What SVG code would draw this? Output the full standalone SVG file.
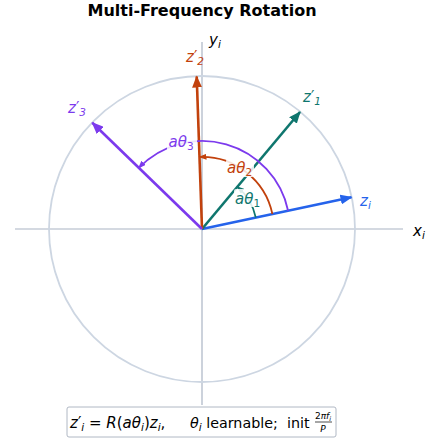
<svg xmlns="http://www.w3.org/2000/svg" width="429" height="440" viewBox="0 0 429 440">
<style>
  text { font-family: "DejaVu Sans", "Liberation Sans", sans-serif; }
  .title { font-size: 16px; font-weight: bold; fill: #000; }
  .math { font-style: italic; font-size: 15px; }
  .ax { stroke: #aab4c4; stroke-width: 1.2; fill: none; }
  .circ { stroke: #cdd6e2; stroke-width: 1.8; fill: none; }
  .vec { stroke-width: 2.6; fill: none; }
  .arc { stroke-width: 1.8; fill: none; }
  .lblbg { fill: #fff; fill-opacity: 0.85; stroke: none; }
  .sub { font-size: 10.5px; }
  .pr { font-style: normal; }
</style>
<defs>
  <marker id="hBlue" viewBox="0 0 12 10" refX="11" refY="5" markerWidth="12" markerHeight="10" markerUnits="userSpaceOnUse" orient="auto"><path d="M0,0 L12,5 L0,10 z" fill="#2563eb"/></marker>
  <marker id="hTeal" viewBox="0 0 12 10" refX="11" refY="5" markerWidth="12" markerHeight="10" markerUnits="userSpaceOnUse" orient="auto"><path d="M0,0 L12,5 L0,10 z" fill="#0f766e"/></marker>
  <marker id="hOrange" viewBox="0 0 12 10" refX="11" refY="5" markerWidth="12" markerHeight="10" markerUnits="userSpaceOnUse" orient="auto"><path d="M0,0 L12,5 L0,10 z" fill="#c2410c"/></marker>
  <marker id="hPurple" viewBox="0 0 12 10" refX="11" refY="5" markerWidth="12" markerHeight="10" markerUnits="userSpaceOnUse" orient="auto"><path d="M0,0 L12,5 L0,10 z" fill="#7c3aed"/></marker>
  <marker id="aTeal" viewBox="0 0 8 6" refX="7" refY="3" markerWidth="8" markerHeight="6" markerUnits="userSpaceOnUse" orient="auto"><path d="M0,0 L8,3 L0,6 z" fill="#0f766e"/></marker>
  <marker id="aOrange" viewBox="0 0 8 6" refX="7" refY="3" markerWidth="8" markerHeight="6" markerUnits="userSpaceOnUse" orient="auto"><path d="M0,0 L8,3 L0,6 z" fill="#c2410c"/></marker>
  <marker id="aPurple" viewBox="0 0 8 6" refX="7" refY="3" markerWidth="8" markerHeight="6" markerUnits="userSpaceOnUse" orient="auto"><path d="M0,0 L8,3 L0,6 z" fill="#7c3aed"/></marker>
</defs>
<rect width="429" height="440" fill="#fff"/>
<text class="title" x="202" y="16" text-anchor="middle">Multi-Frequency Rotation</text>

<g id="axes">
  <line class="ax" x1="15" y1="229" x2="403" y2="229"/>
  <line class="ax" x1="202" y1="42" x2="202" y2="405"/>
  <circle class="circ" cx="202" cy="229" r="153"/>
  <text class="math" x="413" y="236" fill="#000">x<tspan class="sub" dy="3">i</tspan></text>
  <text class="math" x="209" y="45" fill="#000">y<tspan class="sub" dy="3">i</tspan></text>
</g>

<g id="connectors">
  <line id="v-zi" class="vec" x1="202" y1="229" x2="351.5" y2="197.2" stroke="#2563eb" marker-end="url(#hBlue)"/>
  <line id="v-z1" class="vec" x1="202" y1="229" x2="300" y2="112" stroke="#0f766e" marker-end="url(#hTeal)"/>
  <line id="v-z2" class="vec" x1="202" y1="229" x2="196.7" y2="76.5" stroke="#c2410c" marker-end="url(#hOrange)"/>
  <line id="v-z3" class="vec" x1="202" y1="229" x2="92.3" y2="122.8" stroke="#7c3aed" marker-end="url(#hPurple)"/>
  <path id="arc1" class="arc" d="M255.8,217.6 A55,55 0 0 0 237.4,186.9" stroke="#0f766e" marker-end="url(#aTeal)"/>
  <path id="arc2" class="arc" d="M272.4,214.0 A72,72 0 0 0 199.5,157.0" stroke="#c2410c" marker-end="url(#aOrange)"/>
  <path id="arc3" class="arc" d="M288.1,210.7 A88,88 0 0 0 138.7,167.9" stroke="#7c3aed" marker-end="url(#aPurple)"/>
</g>

<g id="label-zi"><text class="math" x="360" y="206" fill="#2563eb">z<tspan class="sub" dy="3">i</tspan></text></g>
<g id="label-z1"><text class="math" x="303" y="102" fill="#0f766e">z<tspan class="pr">′</tspan><tspan class="sub" dy="3">1</tspan></text></g>
<g id="label-z2"><text class="math" x="186" y="62" fill="#c2410c">z<tspan class="pr">′</tspan><tspan class="sub" dy="3">2</tspan></text></g>
<g id="label-z3"><text class="math" x="68" y="113" fill="#7c3aed">z<tspan class="pr">′</tspan><tspan class="sub" dy="3">3</tspan></text></g>

<g id="label-at1">
  <rect class="lblbg" x="234" y="189" width="27" height="18" rx="2"/>
  <text class="math" x="235" y="204" fill="#0f766e">aθ<tspan class="sub" dy="3" font-style="normal">1</tspan></text>
</g>
<g id="label-at2">
  <rect class="lblbg" x="226" y="159" width="28" height="18" rx="2"/>
  <text class="math" x="227" y="173" fill="#c2410c">aθ<tspan class="sub" dy="3" font-style="normal">2</tspan></text>
</g>
<g id="label-at3">
  <rect class="lblbg" x="167" y="133" width="30" height="18" rx="2"/>
  <text class="math" x="168.5" y="147" fill="#7c3aed">aθ<tspan class="sub" dy="3" font-style="normal">3</tspan></text>
</g>

<g id="formula">
  <rect x="67" y="407" width="269" height="30" rx="2" fill="#fff" stroke="#b0b8c4" stroke-width="1"/>
  <text x="70" y="428" font-size="15" fill="#000"><tspan font-style="italic">z</tspan>′<tspan class="sub" font-style="italic" dy="3">i</tspan><tspan dy="-3"> = </tspan><tspan font-style="italic">R</tspan>(<tspan font-style="italic">aθ</tspan><tspan class="sub" font-style="italic" dy="3">i</tspan><tspan dy="-3">)</tspan><tspan font-style="italic">z</tspan><tspan class="sub" font-style="italic" dy="3">i</tspan><tspan dy="-3">,</tspan></text>
  <text x="190" y="428" font-size="14.3" fill="#000"><tspan font-style="italic">θ</tspan><tspan class="sub" font-style="italic" dy="3">i</tspan><tspan dy="-3"> learnable;&#160; init</tspan></text>
  <text x="323" y="419" font-size="9" text-anchor="middle" fill="#000">2<tspan font-style="italic">πf</tspan><tspan font-size="6.5" font-style="italic" dy="2">i</tspan></text>
  <line x1="315" y1="422" x2="332" y2="422" stroke="#000" stroke-width="0.7"/>
  <text x="323" y="432" font-size="9" text-anchor="middle" font-style="italic" fill="#000">P</text>
</g>
</svg>
